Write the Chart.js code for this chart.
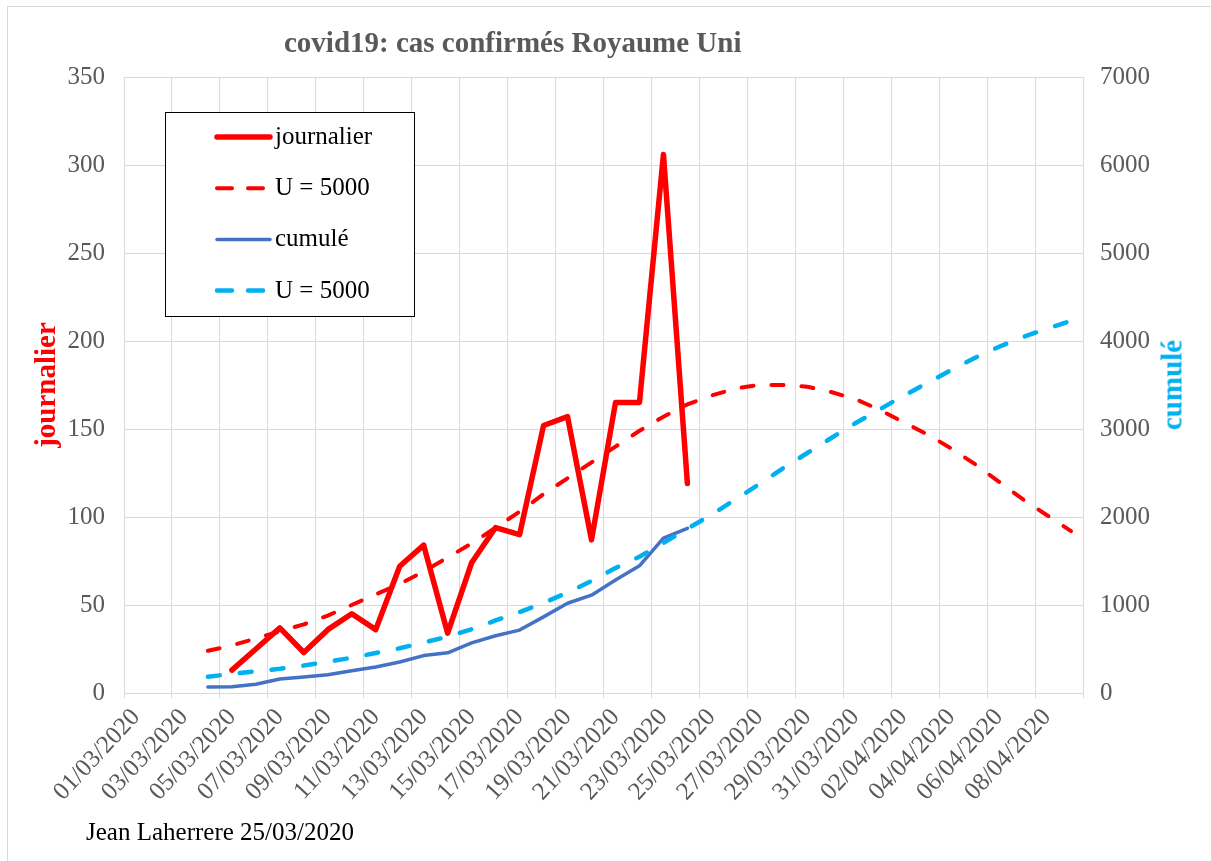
<!DOCTYPE html>
<html>
<head>
<meta charset="utf-8">
<script src="https://cdn.jsdelivr.net/npm/chart.js@4.4.1/dist/chart.umd.min.js"></script>
<style>
  body { margin: 0; background: #fff; }
  #wrap { position: relative; width: 1211px; height: 861px; overflow: hidden; font-family: "Liberation Serif", serif; }
  #cadre { position: absolute; left: 7px; top: 6px; width: 1300px; height: 1000px; border-left: 1px solid #D9D9D9; border-top: 1px solid #D9D9D9; }
  #titre { position: absolute; left: 284px; top: 28px; font-size: 29px; line-height: 29px; font-weight: bold; color: #595959; white-space: nowrap; }
  #titreDroit { position: absolute; left: 1172px; top: 385px; transform: translate(-50%, -50%) rotate(-90deg); font-size: 29px; line-height: 29px; font-weight: bold; color: #00B0F0; white-space: nowrap; }
  #auteur { position: absolute; left: 86px; top: 819px; font-size: 25px; line-height: 25px; color: #000; white-space: nowrap; }
  canvas { position: absolute; left: 0; top: 0; }
</style>
</head>
<body>
<div id="wrap">
  <div id="cadre"></div>
  <canvas id="myChart" width="1211" height="861"></canvas>
  <div id="titre">covid19: cas confirmés Royaume Uni</div>
  <div id="titreDroit">cumulé</div>
  <div id="auteur">Jean Laherrere 25/03/2020</div>
</div>
<script>
const dates = [
    '01/03/2020', '02/03/2020', '03/03/2020', '04/03/2020', '05/03/2020', '06/03/2020', '07/03/2020', '08/03/2020',
    '09/03/2020', '10/03/2020', '11/03/2020', '12/03/2020', '13/03/2020', '14/03/2020', '15/03/2020', '16/03/2020',
    '17/03/2020', '18/03/2020', '19/03/2020', '20/03/2020', '21/03/2020', '22/03/2020', '23/03/2020', '24/03/2020',
    '25/03/2020', '26/03/2020', '27/03/2020', '28/03/2020', '29/03/2020', '30/03/2020', '31/03/2020', '01/04/2020',
    '02/04/2020', '03/04/2020', '04/04/2020', '05/04/2020', '06/04/2020', '07/04/2020', '08/04/2020', '09/04/2020'
];

// journalier (axe gauche)
const journalier = [
    null, null, null, null, 13, 25, 37, 23, 36, 45, 36, 72, 84, 34, 74, 94, 90, 152, 157, 87,
    165, 165, 306, 119, null, null, null, null, null, null, null, null, null, null, null, null, null, null, null, null
];
// modele U = 5000, journalier
const uJournalier = [
    null, null, null, 24, 27, 31, 35, 39, 44, 50, 56, 62, 69, 77, 85, 94, 103, 113, 122, 131,
    140, 149, 157, 164, 169, 173, 175, 175, 174, 171, 167, 161, 154, 147, 139, 130, 120, 110, 101, 92
];
// cumulé (axe droit)
const cumule = [
    null, null, null, 68, 72, 100, 160, 182, 207, 252, 295, 352, 425, 457, 570, 650, 715, 865, 1020, 1112,
    1283, 1445, 1760, 1872, null, null, null, null, null, null, null, null, null, null, null, null, null, null, null, null
];
// modele U = 5000, cumulé
const uCumule = [
    null, null, null, 185, 216, 247, 275, 312, 355, 400, 455, 509, 573, 640, 725, 824, 920, 1023, 1142, 1273,
    1420, 1549, 1705, 1868, 2025, 2200, 2375, 2555, 2727, 2898, 3065, 3220, 3375, 3523, 3670, 3810, 3935, 4045, 4140, 4230
];

const leftTicks = { min: 0, max: 350, step: 50 };
const rightTicks = { min: 0, max: 7000, step: 1000 };

const serif = 'Liberation Serif';
const gris = '#595959';
const grille = '#D9D9D9';

const legendBox = {
    id: 'legendBox',
    afterDraw: (chart) => {
        const ctx = chart.ctx;
        ctx.save();
        ctx.fillStyle = '#fff';
        ctx.fillRect(166, 113, 248, 203);
        ctx.strokeStyle = '#000';
        ctx.lineWidth = 1;
        ctx.strokeRect(165.5, 112.5, 249, 204);
        chart.data.datasets.forEach((ds, i) => {
            const y = 137 + i * 51.2;
            ctx.beginPath();
            ctx.setLineDash(ds.borderDash ? [15, 16] : []);
            ctx.lineCap = 'round';
            ctx.strokeStyle = ds.borderColor;
            ctx.lineWidth = ds.borderWidth;
            ctx.moveTo(217, y);
            ctx.lineTo(ds.borderDash ? 266 : 270, y);
            ctx.stroke();
            ctx.setLineDash([]);
            ctx.fillStyle = '#000';
            ctx.font = `25px "${serif}"`;
            ctx.textBaseline = 'alphabetic';
            ctx.fillText(ds.label, 275, y + 7);
        });
        ctx.restore();
    }
};

new Chart(document.getElementById('myChart'), {
    type: 'line',
    data: {
        labels: dates,
        datasets: [
            {
                label: 'journalier',
                data: journalier,
                yAxisID: 'y',
                borderColor: '#FF0000',
                borderWidth: 5.5,
                borderJoinStyle: 'round',
                borderCapStyle: 'round',
                pointRadius: 0,
                tension: 0,
                order: 1
            },
            {
                label: 'U = 5000',
                data: uJournalier,
                yAxisID: 'y',
                borderColor: '#FF0000',
                borderWidth: 4,
                borderDash: [12, 18],
                borderCapStyle: 'round',
                pointRadius: 0,
                tension: 0,
                order: 3
            },
            {
                label: 'cumulé',
                data: cumule,
                yAxisID: 'y1',
                borderColor: '#4472C4',
                borderWidth: 3.5,
                borderJoinStyle: 'round',
                borderCapStyle: 'round',
                pointRadius: 0,
                tension: 0,
                order: 2
            },
            {
                label: 'U = 5000',
                data: uCumule,
                yAxisID: 'y1',
                borderColor: '#00B0F0',
                borderWidth: 4.5,
                borderDash: [12, 20],
                borderCapStyle: 'round',
                pointRadius: 0,
                tension: 0,
                order: 0
            }
        ]
    },
    options: {
        responsive: false,
        animation: false,
        devicePixelRatio: 1,
        layout: { padding: { top: 77, left: 0, right: 0, bottom: 0 } },
        plugins: {
            legend: { display: false },
            tooltip: { enabled: false },
            title: { display: false }
        },
        scales: {
            x: {
                type: 'category',
                offset: true,
                grid: {
                    offset: true,
                    color: (c) => (c.index === undefined || c.index % 2 === 0) ? grille : 'rgba(0,0,0,0)',
                    lineWidth: 1,
                    drawTicks: true,
                    tickLength: 5
                },
                border: { color: grille },
                ticks: {
                    autoSkip: false,
                    maxRotation: 47,
                    minRotation: 47,
                    padding: 5,
                    color: gris,
                    font: { family: serif, size: 25 },
                    callback: function (v, i) { return i % 2 === 0 ? this.getLabelForValue(v) : ''; }
                },
                afterFit: (scale) => { scale.height = 168; }
            },
            y: {
                position: 'left',
                min: leftTicks.min,
                max: leftTicks.max,
                grid: { color: grille, drawTicks: false },
                border: { color: grille },
                ticks: {
                    stepSize: leftTicks.step,
                    padding: 19,
                    color: gris,
                    font: { family: serif, size: 25 }
                },
                title: {
                    display: true,
                    text: 'journalier',
                    color: '#FF0000',
                    font: { family: serif, size: 29, weight: 'bold' },
                    padding: { top: 30, bottom: 0 }
                },
                afterFit: (scale) => { scale.width = 124; }
            },
            y1: {
                position: 'right',
                min: rightTicks.min,
                max: rightTicks.max,
                grid: { display: false, drawTicks: false },
                border: { color: grille },
                ticks: {
                    stepSize: rightTicks.step,
                    padding: 17,
                    color: gris,
                    font: { family: serif, size: 25 },
                    callback: (v) => String(v)
                },
                afterFit: (scale) => { scale.width = 128; }
            }
        }
    },
    plugins: [legendBox]
});
</script>
</body>
</html>
